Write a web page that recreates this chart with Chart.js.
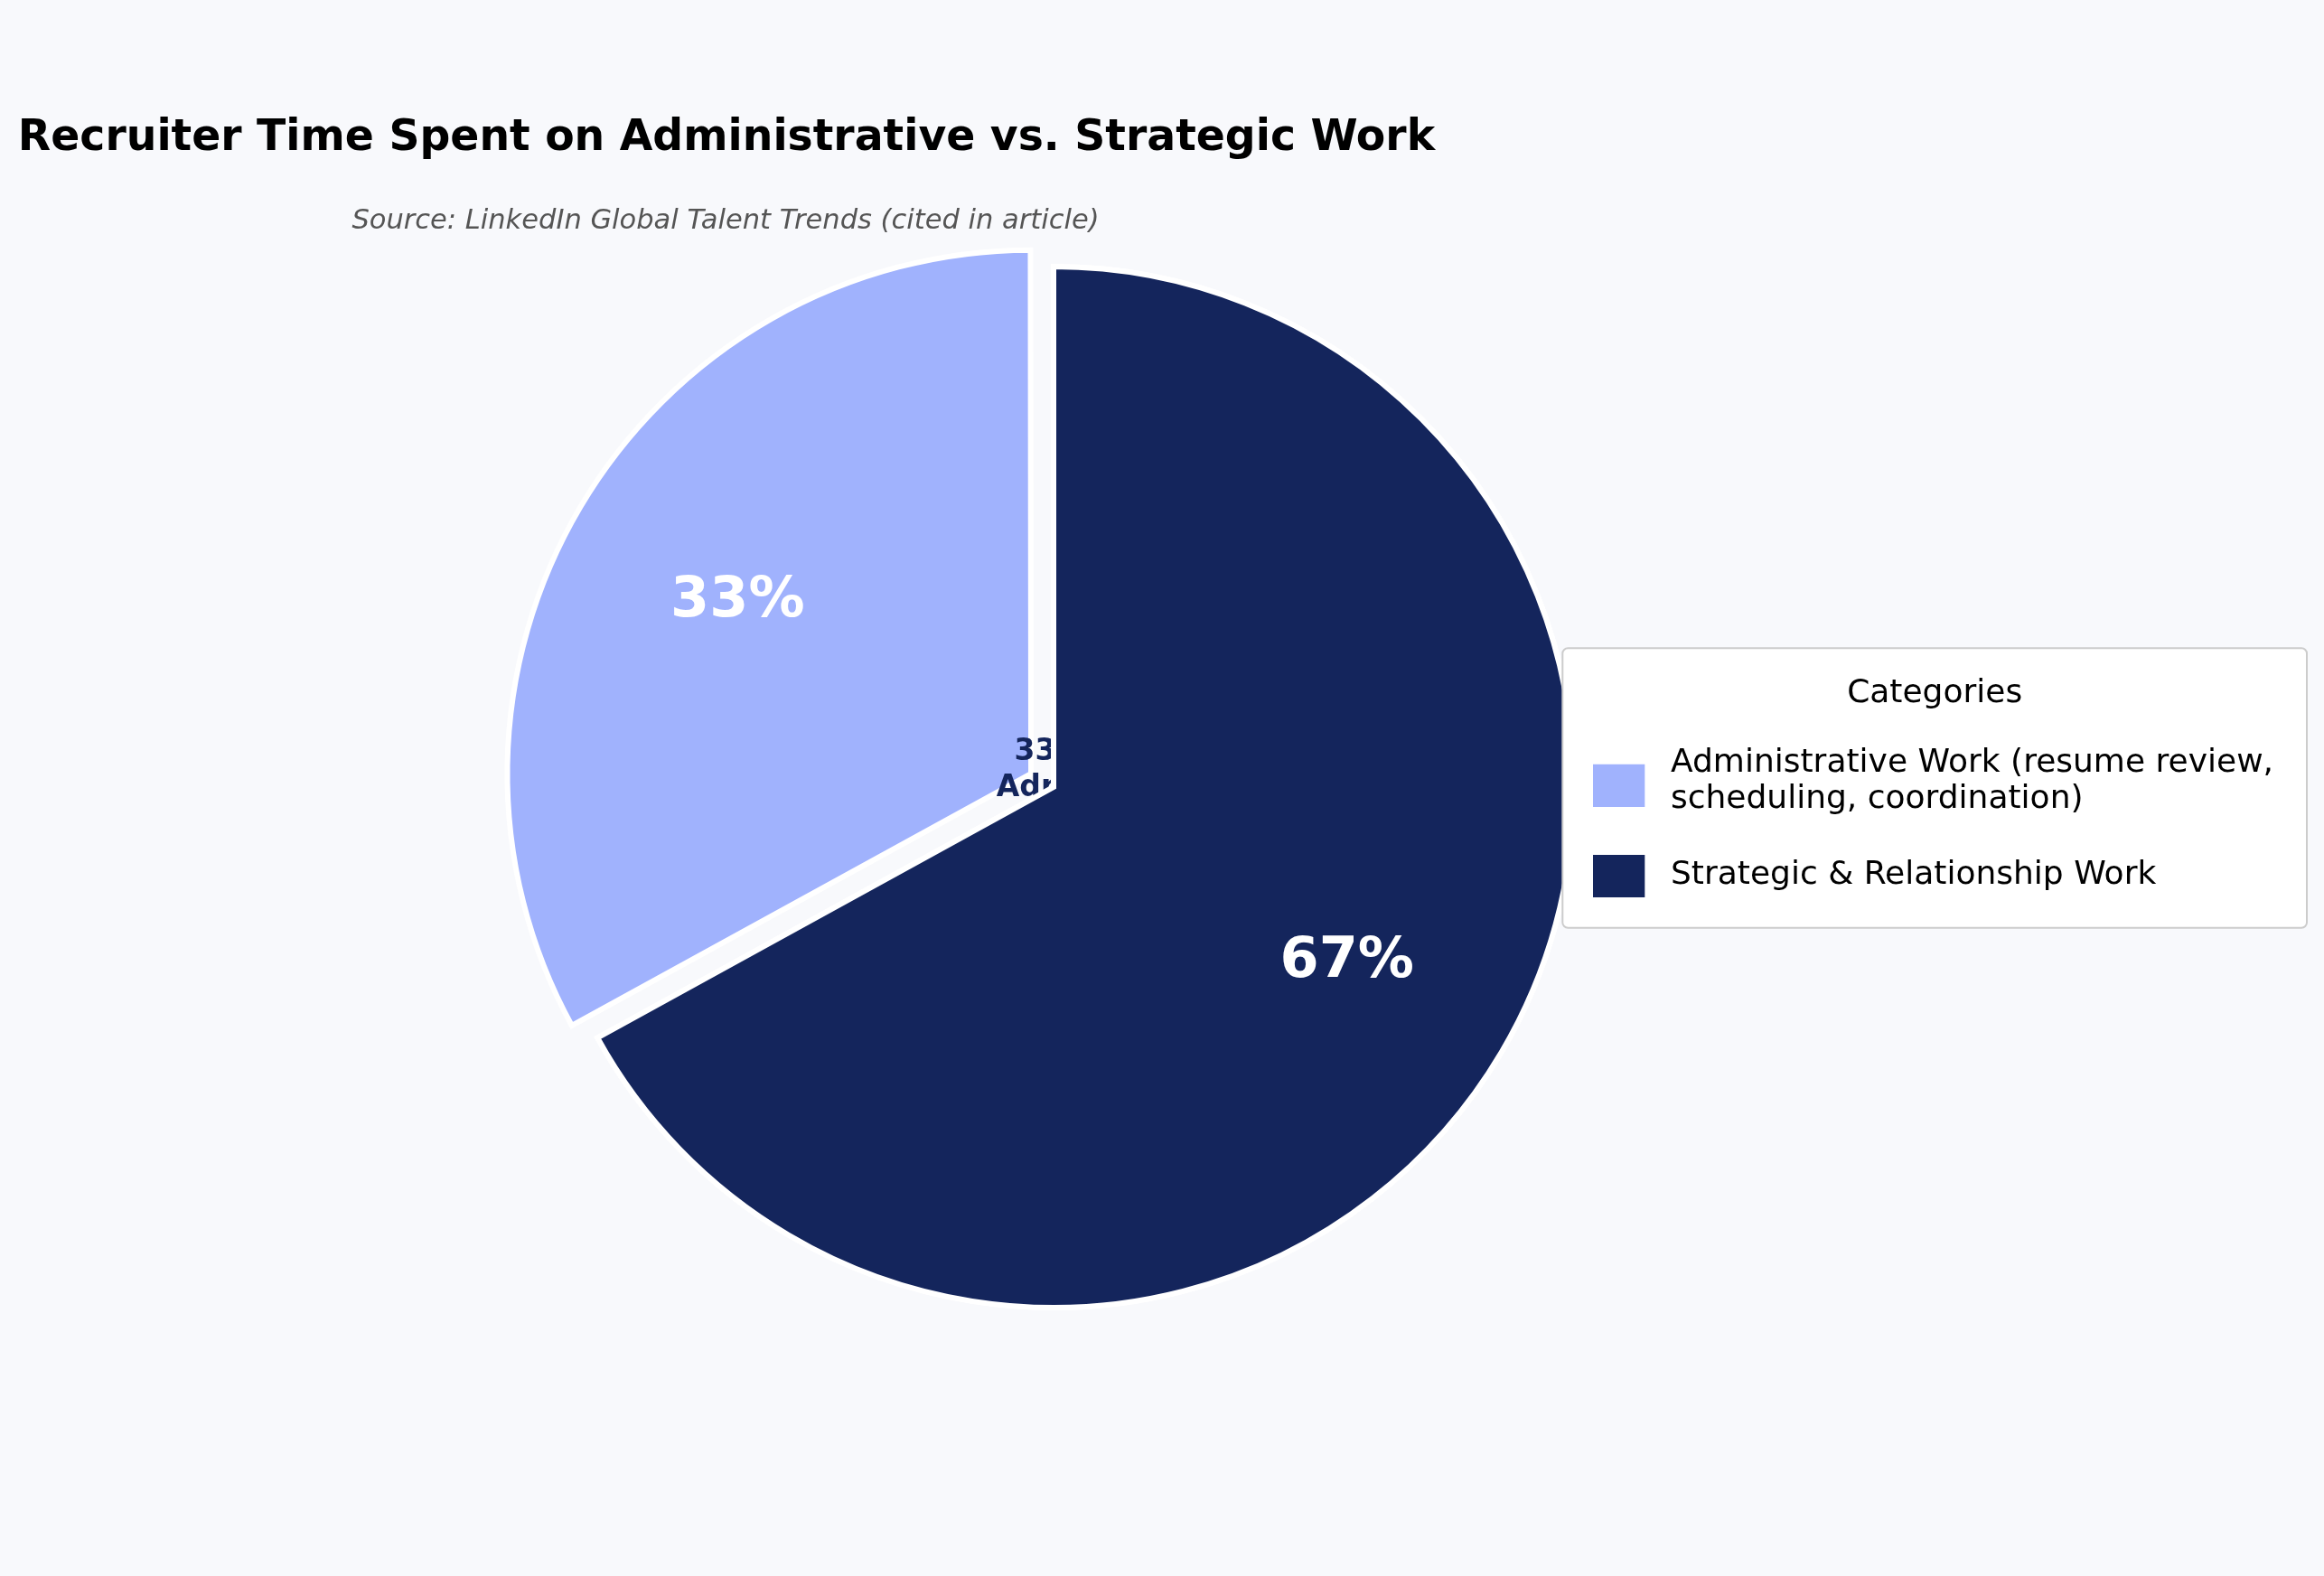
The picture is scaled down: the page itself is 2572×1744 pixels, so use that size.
<!DOCTYPE html>
<html><head><meta charset="utf-8">
<script src="https://cdn.jsdelivr.net/npm/chart.js@4.4.1/dist/chart.umd.min.js"></script>
<style>html,body{margin:0;padding:0;background:#f8f9fc;} canvas{display:block;}</style>
</head><body>
<canvas id="c" width="2572" height="1744" style="width:2572px;height:1744px"></canvas>
<script>
// ---- data ----
const titleText = 'Recruiter Time Spent on Administrative vs. Strategic Work';
const subtitleText = 'Source: LinkedIn Global Talent Trends (cited in article)';
const categories = ['Administrative Work (resume review, scheduling, coordination)', 'Strategic & Relationship Work'];
const legendLabels = [['Administrative Work (resume review,', 'scheduling, coordination)'], 'Strategic & Relationship Work'];
const values = [33, 67];
const sliceColors = ['#a0b2fd', '#14255c'];
const legendTitle = 'Categories';
const centerNote = ['Admin', 'Work'];

// ---- styling / layout ----
const BG = '#f8f9fc';
const FONT = 'DejaVu Sans';
const PIE_CX = 1166, PIE_CY = 871, PIE_R = 576;
const LEG = {left: 1729.3, top: 717.3, width: 823.7, height: 309.4};
const total = values.reduce((a, b) => a + b, 0);
const pctText = v => Math.round(v / total * 100) + '%';

function swatch(color, w, h, rx, ry, rw, rh) {
  const c = document.createElement('canvas');
  c.width = w; c.height = h;
  const g = c.getContext('2d');
  g.fillStyle = color; g.fillRect(rx, ry, rw, rh);
  return c;
}
const swatches = [
  swatch(sliceColors[0], 78, 97, 0, 50, 57, 47),
  swatch(sliceColors[1], 78, 49, 0, 2, 57, 47)
];

Chart.defaults.font.family = FONT;

const bgPlugin = {
  id: 'bg',
  beforeDraw(chart) {
    const ctx = chart.ctx;
    ctx.save();
    ctx.fillStyle = BG;
    ctx.fillRect(0, 0, chart.width, chart.height);
    ctx.restore();
  }
};

const layoutPlugin = {
  id: 'placeBoxes',
  afterLayout(chart) {
    const half = 600;
    chart.chartArea = {left: PIE_CX - half, top: PIE_CY - half, right: PIE_CX + half, bottom: PIE_CY + half, width: 2 * half, height: 2 * half};
    const lg = chart.legend;
    lg.left = LEG.left; lg.top = LEG.top; lg.width = LEG.width; lg.height = 360;
    lg.right = LEG.left + LEG.width; lg.bottom = LEG.top + 360;
    const tb = chart.titleBlock;
    tb.left = 0; tb.right = 1608; tb.width = 1608;
    chart.boxes.forEach(b => {
      if (b !== tb && b !== lg && b.options && b.options.text === subtitleText) {
        b.left = 0; b.right = 1606; b.width = 1606;
      }
    });
  }
};

const overlayPlugin = {
  id: 'overlay',
  afterDatasetsDraw(chart) {
    const ctx = chart.ctx;
    const arcs = chart.getDatasetMeta(0).data;
    // centre annotation (sits above first slice, below second)
    const c = arcs[1];
    ctx.save();
    ctx.fillStyle = sliceColors[1];
    ctx.font = 'bold 33px "' + FONT + '"';
    ctx.textAlign = 'center';
    ctx.textBaseline = 'middle';
    [pctText(values[0]), ...centerNote].forEach((t, k) => ctx.fillText(t, c.x - 4, c.y + (k - 1) * 40 + 1.5));
    ctx.restore();
    arcs[1].draw(ctx);
    // percentage labels
    ctx.save();
    ctx.fillStyle = '#ffffff';
    ctx.font = 'bold 62px "' + FONT + '"';
    ctx.textAlign = 'center';
    ctx.textBaseline = 'middle';
    arcs.forEach((arc, i) => {
      const p = arc.getProps(['x', 'y', 'startAngle', 'endAngle', 'outerRadius']);
      const mid = (p.startAngle + p.endAngle) / 2;
      const d = (arc.options.offset || 0) / 4 + 0.655 * p.outerRadius;
      ctx.fillText(pctText(values[i]), p.x + Math.cos(mid) * d, p.y + Math.sin(mid) * d + 2);
    });
    ctx.restore();
    // legend frame, then legend on top
    const lg = chart.legend;
    ctx.save();
    ctx.beginPath();
    ctx.roundRect(lg.left, lg.top, LEG.width, LEG.height, 6);
    ctx.fillStyle = '#ffffff';
    ctx.fill();
    ctx.lineWidth = 2;
    ctx.strokeStyle = '#cccccc';
    ctx.stroke();
    ctx.restore();
    lg.draw();
  }
};

new Chart(document.getElementById('c'), {
  type: 'pie',
  data: {
    labels: categories,
    datasets: [{
      data: values,
      backgroundColor: sliceColors,
      borderColor: '#ffffff',
      borderWidth: 6,
      borderJoinStyle: 'miter',
      offset: [116, 0],
      hoverOffset: 0,
      radius: PIE_R,
      rotation: -values[0] / total * 360,
      clip: false
    }]
  },
  options: {
    responsive: false,
    animation: false,
    events: [],
    devicePixelRatio: 1,
    layout: {padding: 0},
    plugins: {
      tooltip: {enabled: false},
      title: {
        display: true, text: titleText, color: '#000000', align: 'center',
        font: {size: 47.3, weight: 'bold', lineHeight: 1},
        padding: {top: 129.8, bottom: 0}
      },
      subtitle: {
        display: true, text: subtitleText, color: '#555555', align: 'center',
        font: {size: 30.5, style: 'italic', lineHeight: 1},
        padding: {top: 52.7, bottom: 0}
      },
      legend: {
        display: true, position: 'right', align: 'start',
        title: {display: true, text: legendTitle, color: '#000000', font: {size: 36, lineHeight: 1}, padding: {top: 32.2, bottom: -3.6}},
        labels: {
          usePointStyle: true, pointStyleWidth: 57.4, padding: 44.3, color: '#000000',
          font: {size: 36, lineHeight: 40 / 36},
          generateLabels: () => legendLabels.map((t, i) => ({
            text: t, fillStyle: sliceColors[i], strokeStyle: sliceColors[i], lineWidth: 0,
            pointStyle: swatches[i], hidden: false, index: i, fontColor: '#000000'
          }))
        }
      }
    }
  },
  plugins: [bgPlugin, layoutPlugin, overlayPlugin]
});
</script>
</body></html>
